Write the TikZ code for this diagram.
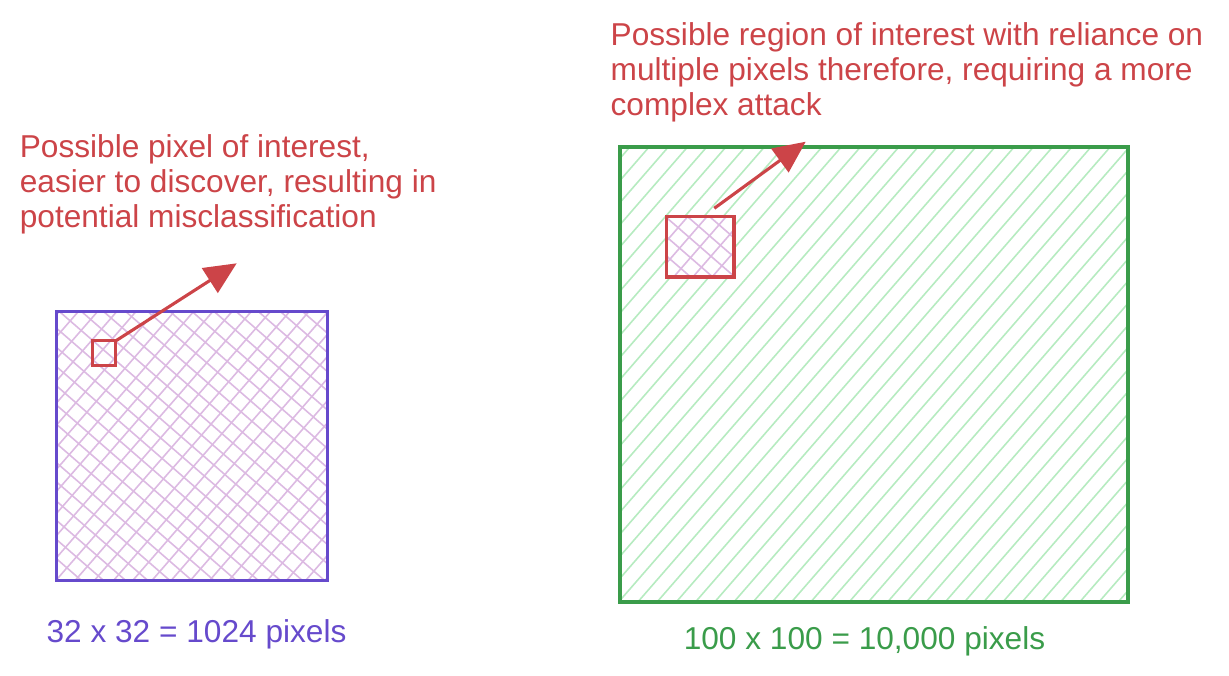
\documentclass[tikz,border=0pt]{standalone}
\usepackage{fontspec}
\setmainfont{Liberation Sans}
\usetikzlibrary{calc}
\usetikzlibrary{arrows.meta}

\definecolor{noteRed}{RGB}{204,68,72}
\definecolor{lowPurple}{RGB}{102,74,204}
\definecolor{highGreen}{RGB}{58,156,74}
\definecolor{hatchPurple}{RGB}{220,186,226}
\definecolor{hatchGreen}{RGB}{182,235,192}

\begin{document}
\begin{tikzpicture}[x=0.2mm, y=-0.2mm,
	note/.style={anchor=north west, inner sep=0pt, align=left, text=noteRed, font=\fontsize{18}{19.9}\selectfont},
	caption/.style={anchor=base, inner sep=0pt, font=\fontsize{18}{19.9}\selectfont},
	frame/.style={line width=0.62mm, inner sep=0pt, outer sep=0pt},
	roi/.style={draw=noteRed, line width=0.62mm, inner sep=0pt, outer sep=0pt},
	attack/.style={draw=noteRed, line width=0.62mm, -{Triangle[length=6.4mm, width=5.8mm]}},
	hatch/.style={line width=0.32mm}]
	\useasboundingbox (0,0) rectangle (1229,675);

	% #1 colour, #2 angle, #3 node, #4 number of lines each side
	\newcommand\hatchBox[4]{
		\begin{scope}
		\clip (#3.north west) rectangle (#3.south east);
		\begin{scope}[shift={(#3.center)}, rotate=#2]
		\foreach \k in {-#4,...,#4}
			\draw[hatch, #1] (-380, \k*14.5) -- (380, \k*14.5);
		\end{scope}
		\end{scope}
	}

	\node[frame, minimum width=54.2mm, minimum height=53.8mm] (lowres) at (192,446) {};
	\node[frame, minimum width=101.6mm, minimum height=91mm] (highres) at (874,374.5) {};
	\node[roi, draw=none, minimum width=13.5mm, minimum height=12.1mm] (region) at (700,246.7) {};

	\hatchBox{hatchPurple}{49}{lowres}{14}
	\hatchBox{hatchPurple}{-41}{lowres}{14}
	\hatchBox{hatchGreen}{49}{highres}{25}
	\fill[white] (region.north west) rectangle (region.south east);
	\hatchBox{hatchPurple}{49}{region}{5}
	\hatchBox{hatchPurple}{-41}{region}{5}

	\draw[frame, lowPurple] (lowres.north west) rectangle (lowres.south east);
	\draw[frame, highGreen, line width=0.66mm] (highres.north west) rectangle (highres.south east);
	\draw[roi, line width=0.7mm] (region.north west) rectangle (region.south east);
	\node[roi, minimum width=4.66mm, minimum height=5mm] (pixel) at (104.2,353.3) {};

	\coordinate (pixeltip) at (236.7,263.3);
	\coordinate (regiontail) at (714.3,208.3);
	\coordinate (regiontip) at (805.7,141.7);
	\draw[attack] (pixel.north east) -- (pixeltip);
	\draw[attack] (regiontail) -- (regiontip);

	\node[note] (pixelnote) at (19.5,134) {Possible pixel of interest,\\ easier to discover, resulting in\\ potential misclassification};
	\node[note] (regionnote) at (610.3,22.7) {Possible region of interest with reliance on\\ multiple pixels therefore, requiring a more\\ complex attack};

	\node[caption, text=lowPurple] (lowcap) at (196.5,642) {32 x 32 = 1024 pixels};
	\node[caption, text=highGreen] (highcap) at (864.5,649) {100 x 100 = 10,000 pixels};
\end{tikzpicture}
\end{document}
